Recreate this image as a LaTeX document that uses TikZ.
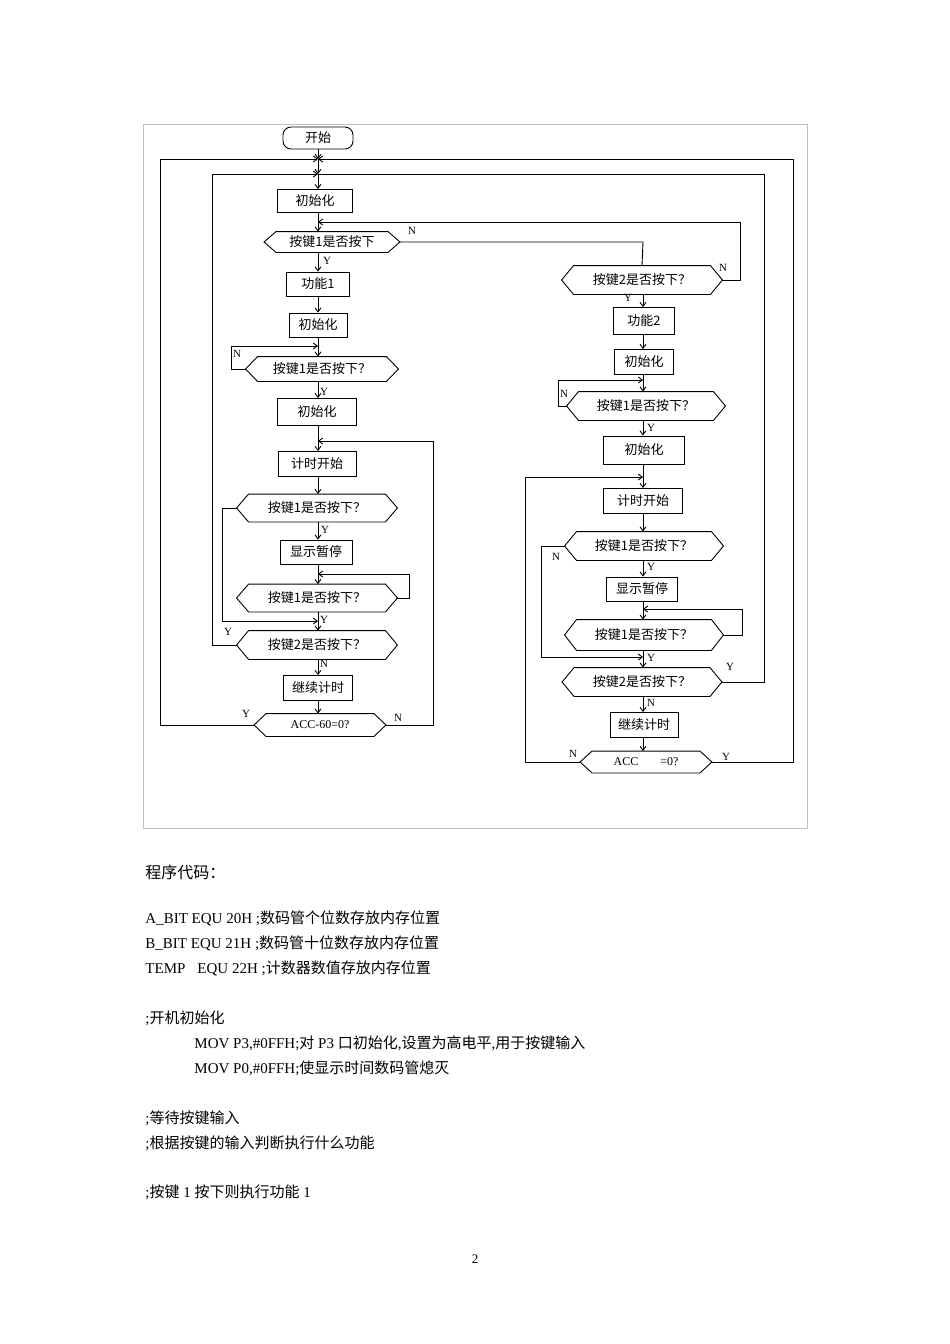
\documentclass[tikz,border=0pt]{standalone}
\usepackage{fontspec}
\setmainfont{Liberation Serif}
\newfontfamily\cjk{Noto Sans CJK SC}
\usetikzlibrary{arrows.meta}
\newcommand\hexd[1]{\draw (#1.west) -- ([xshift=12pt]#1.north west) -- ([xshift=-12pt]#1.north east) -- (#1.east) -- ([xshift=-12pt]#1.south east) -- ([xshift=12pt]#1.south west) -- cycle;}
\begin{document}
\begin{tikzpicture}[x=1pt,y=-1pt,line width=0.9pt,
  box/.style={draw,inner sep=0pt,font=\cjk\fontsize{13}{15}\selectfont},
  hx/.style={inner sep=0pt,font=\cjk\fontsize{13}{15}\selectfont},
  lb/.style={inner sep=0pt,font=\fontsize{11}{12}\selectfont},
  ar/.style={-{Straight Barb[length=4pt,width=6pt]}},
  tx/.style={anchor=west,inner sep=0pt,font=\fontsize{15}{17}\selectfont}]
\useasboundingbox (0,0) rectangle (950,1344);
\draw[line width=0.5pt,gray!50] (143,124) rectangle (807,828);
% left column
\node[box,rounded corners=8pt,minimum width=70,minimum height=22] (st) at (318,138) {开始};
\coordinate (j1) at (318,159);
\coordinate (j2) at (318,174);
\node[box,minimum width=75,minimum height=23] (a1) at (315,201) {初始化};
\node[hx,minimum width=135,minimum height=20] (a2) at (332,242) {按键1是否按下};
\node[box,minimum width=63,minimum height=24] (a3) at (318,284) {功能1};
\node[box,minimum width=58,minimum height=24] (a4) at (318,325) {初始化};
\node[hx,minimum width=152,minimum height=24] (a5) at (322,369) {按键1是否按下？};
\node[box,minimum width=79,minimum height=27] (a6) at (317,412) {初始化};
\node[box,minimum width=78,minimum height=25] (a7) at (317,464) {计时开始};
\node[hx,minimum width=160,minimum height=27] (a8) at (317,508) {按键1是否按下？};
\node[box,minimum width=72,minimum height=24] (a9) at (316,552) {显示暂停};
\node[hx,minimum width=160,minimum height=27] (a10) at (317,598) {按键1是否按下？};
\node[hx,minimum width=160,minimum height=28] (a11) at (317,645) {按键2是否按下？};
\node[box,minimum width=69,minimum height=25] (a12) at (318,688) {继续计时};
\node[hx,minimum width=131,minimum height=22,font=\fontsize{12}{14}\selectfont] (a13) at (320,725) {ACC-60=0?};
\foreach \n in {a2,a5,a8,a10,a11,a13} {\hexd{\n}}
% right column
\node[hx,minimum width=160,minimum height=28] (b1) at (642,280) {按键2是否按下？};
\node[box,minimum width=61,minimum height=27] (b2) at (644,321) {功能2};
\node[box,minimum width=59,minimum height=25] (b3) at (644,362) {初始化};
\node[hx,minimum width=158,minimum height=28] (b4) at (646,406) {按键1是否按下？};
\node[box,minimum width=81,minimum height=28] (b5) at (644,450) {初始化};
\node[box,minimum width=79,minimum height=25] (b6) at (643,501) {计时开始};
\node[hx,minimum width=158,minimum height=28] (b7) at (644,546) {按键1是否按下？};
\node[box,minimum width=71,minimum height=24] (b8) at (642,589) {显示暂停};
\node[hx,minimum width=158,minimum height=30] (b9) at (644,635) {按键1是否按下？};
\node[hx,minimum width=159,minimum height=28] (b10) at (642,682) {按键2是否按下？};
\node[box,minimum width=68,minimum height=25] (b11) at (644,725) {继续计时};
\node[hx,minimum width=131,minimum height=21,font=\fontsize{12}{14}\selectfont] (b12) at (646,762) {ACC\hspace{22pt}=0?};
\foreach \n in {b1,b4,b7,b9,b10,b12} {\hexd{\n}}
% straight flow
\draw[ar] (st) -- (j1);
\draw[ar] (j1) -- (j2);
\draw[ar] (j2) -- (a1.north -| j2);
\draw[ar] (a1.south -| 318,0) -- (a2.north -| 318,0);
\draw[ar] (a2.south -| 318,0) -- (a3);
\draw[ar] (a3) -- (a4);
\draw[ar] (a4.south -| 318,0) -- (a5.north -| 318,0);
\draw[ar] (a5.south -| 318,0) -- (a6.north -| 318,0);
\draw[ar] (a6.south -| 318,0) -- (a7.north -| 318,0);
\draw[ar] (a7.south -| 318,0) -- (a8.north -| 318,0);
\draw[ar] (a8.south -| 318,0) -- (a9.north -| 318,0);
\draw[ar] (a9.south -| 318,0) -- (a10.north -| 318,0);
\draw[ar] (a10.south -| 318,0) -- (a11.north -| 318,0);
\draw[ar] (a11.south -| 318,0) -- (a12.north -| 318,0);
\draw[ar] (a12.south -| 318,0) -- (a13.north -| 318,0);
\draw[ar] (b1.south -| 643,0) -- (b2.north -| 643,0);
\draw[ar] (b2.south -| 643,0) -- (b3.north -| 643,0);
\draw[ar] (b3.south -| 643,0) -- (b4.north -| 643,0);
\draw[ar] (b4.south -| 643,0) -- (b5.north -| 643,0);
\draw[ar] (b5.south -| 643,0) -- (b6.north -| 643,0);
\draw[ar] (b6.south -| 643,0) -- (b7.north -| 643,0);
\draw[ar] (b7.south -| 643,0) -- (b8.north -| 643,0);
\draw[ar] (b8.south -| 643,0) -- (b9.north -| 643,0);
\draw[ar] (b9.south -| 643,0) -- (b10.north -| 643,0);
\draw[ar] (b10.south -| 643,0) -- (b11.north -| 643,0);
\draw[ar] (b11.south -| 643,0) -- (b12.north -| 643,0);
% loops
\draw[ar] (a13.west) -- (160,725) -- (160,159) -- (j1);
\draw (b12.east) -- (793,762) -- (793,159) -- (j1);
\draw[ar] (793,159) -- (j1);
\draw[ar] (a11.west) -- (212,645) -- (212,174) -- (j2);
\draw (b10.east) -- (764,682) -- (764,174) -- (j2);
\draw (a2.east) -- (643,242) -- (b1.north);
\draw[ar] (b1.east) -- (740,280) -- (740,222) -- (318,222);
\draw[ar] (a5.west) -- (231,369) -- (231,346) -- (318,346);
\draw[ar] (a13.east) -- (433,725) -- (433,441) -- (318,441);
\draw[ar] (a8.west) -- (222,508) -- (222,621) -- (318,621);
\draw[ar] (a10.east) -- (409,598) -- (409,574) -- (318,574);
\draw[ar] (b4.west) -- (558,406) -- (558,380) -- (643,380);
\draw[ar] (b12.west) -- (525,762) -- (525,477) -- (643,477);
\draw[ar] (b7.west) -- (541,546) -- (541,657) -- (643,657);
\draw[ar] (b9.east) -- (742,635) -- (742,609) -- (643,609);
% labels
\node[lb] (l1) at (412,231) {N};
\node[lb] (l2) at (327,261) {Y};
\node[lb] (l3) at (237,354) {N};
\node[lb] (l4) at (324,392) {Y};
\node[lb] (l5) at (325,530) {Y};
\node[lb] (l6) at (324,620) {Y};
\node[lb] (l7) at (228,632) {Y};
\node[lb] (l8) at (324,664) {N};
\node[lb] (l9) at (246,714) {Y};
\node[lb] (l10) at (398,718) {N};
\node[lb] (l11) at (723,268) {N};
\node[lb] (l12) at (628,298) {Y};
\node[lb] (l13) at (564,394) {N};
\node[lb] (l14) at (651,428) {Y};
\node[lb] (l15) at (556,557) {N};
\node[lb] (l16) at (651,567) {Y};
\node[lb] (l17) at (651,658) {Y};
\node[lb] (l18) at (730,667) {Y};
\node[lb] (l19) at (651,703) {N};
\node[lb] (l20) at (573,754) {N};
\node[lb] (l21) at (726,757) {Y};
% text
\node[tx,font=\cjk\fontsize{16}{18}\selectfont] (t0) at (145,872) {程序代码：};
\node[tx] (t1) at (145,918) {A\_BIT EQU 20H ;{\cjk 数码管个位数存放内存位置}};
\node[tx] (t2) at (145,943) {B\_BIT EQU 21H ;{\cjk 数码管十位数存放内存位置}};
\node[tx] (t3) at (145,968) {TEMP\hspace{12pt}EQU 22H ;{\cjk 计数器数值存放内存位置}};
\node[tx] (t4) at (145,1018) {;{\cjk 开机初始化}};
\node[tx] (t5) at (194,1043) {MOV P3,\#0FFH;{\cjk 对} P3 {\cjk 口初始化},{\cjk 设置为高电平},{\cjk 用于按键输入}};
\node[tx] (t6) at (194,1068) {MOV P0,\#0FFH;{\cjk 使显示时间数码管熄灭}};
\node[tx] (t7) at (145,1118) {;{\cjk 等待按键输入}};
\node[tx] (t8) at (145,1143) {;{\cjk 根据按键的输入判断执行什么功能}};
\node[tx] (t9) at (145,1192) {;{\cjk 按键} 1 {\cjk 按下则执行功能} 1};
\node[inner sep=0pt,font=\fontsize{13}{15}\selectfont] (pg) at (475,1259) {2};
\end{tikzpicture}
\end{document}
